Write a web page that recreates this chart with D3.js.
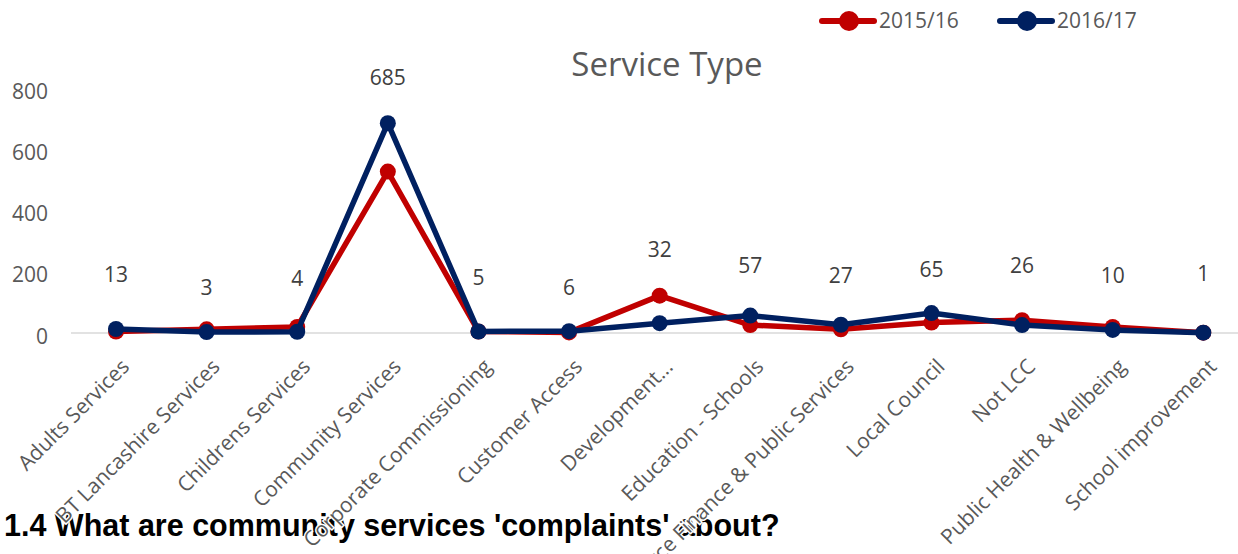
<!DOCTYPE html>
<html><head><meta charset="utf-8">
<script src="https://cdn.jsdelivr.net/npm/d3@7"></script>
<style>
html,body{margin:0;padding:0;background:#fff;overflow:hidden;}
svg{display:block;}
</style></head>
<body>
<svg id="chart" width="1238" height="554"></svg>
<script>
const categories = ["Adults Services","BT Lancashire Services","Childrens Services","Community Services","Corporate Commissioning","Customer Access","Development...","Education - Schools","Resource Finance & Public Services","Local Council","Not LCC","Public Health & Wellbeing","School improvement"];
const series2015 = [5, 12, 20, 527, 5, 2, 122, 26, 12, 34, 42, 20, 1];
const series2016 = [13, 3, 4, 685, 5, 6, 32, 57, 27, 65, 26, 10, 1];
const dataLabels = ["13","3","4","685","5","6","32","57","27","65","26","10","1"];
const labelHeights = [190, 148, 177, 833, 180, 148, 272, 220, 187, 207, 220, 187, 193];
const yTicks = [0, 200, 400, 600, 800];
const seriesNames = ["2015/16", "2016/17"];
const colors = ["#C00000", "#002060"];

const svg = d3.select("#chart");
const font = "'Open Sans', sans-serif";

const x = d3.scalePoint().domain(categories).range([116, 1203.3]);
const y = d3.scaleLinear().domain([0, 800]).range([333, 88]);

// bottom heading (drawn first; axis labels overlay it)
svg.append("text")
  .attr("x", 4).attr("y", 536)
  .attr("font-family", "'Liberation Sans', Arial, sans-serif")
  .attr("font-weight", "bold").attr("font-size", 30.5)
  .attr("fill", "#000")
  .text("1.4 What are community services 'complaints' about?");

// chart title
svg.append("text")
  .attr("x", 667).attr("y", 76)
  .attr("text-anchor", "middle")
  .attr("font-family", font).attr("font-size", 33)
  .attr("fill", "#595959")
  .text("Service Type");

// y axis labels
const yAxis = d3.axisLeft(y).tickValues(yTicks).tickSize(0).tickPadding(0);
const yg = svg.append("g").attr("transform", "translate(48,3.5)").call(yAxis);
yg.select(".domain").remove();
yg.selectAll("text").attr("font-family", font).attr("font-size", 21).attr("fill", "#595959");

// baseline
svg.append("line")
  .attr("x1", 71).attr("x2", 1238)
  .attr("y1", y(0)).attr("y2", y(0))
  .attr("stroke", "#d9d9d9").attr("stroke-width", 1.5);

// x labels
const xAxis = d3.axisBottom(x).tickSize(0).tickPadding(0);
const xg = svg.append("g").attr("transform", `translate(0,${y(0)})`).call(xAxis);
xg.select(".domain").remove();
xg.selectAll(".tick text")
  .attr("font-family", font).attr("font-size", 21).attr("fill", "#595959")
  .attr("text-anchor", "end")
  .attr("dy", null).attr("y", null)
  .attr("dominant-baseline", "middle")
  .attr("transform", "translate(10,31) rotate(-45)")
  .attr("stroke", "#fff").attr("stroke-width", 3).attr("paint-order", "stroke");

// lines
const allSeries = [series2015, series2016];
const line = d3.line().x((d, i) => x(categories[i])).y(d => y(d));
allSeries.forEach((s, k) => {
  svg.append("path").datum(s)
    .attr("d", line).attr("fill", "none")
    .attr("stroke", colors[k]).attr("stroke-width", 5.5)
    .attr("stroke-linejoin", "round");
  svg.append("g").selectAll("circle").data(s).join("circle")
    .attr("cx", (d, i) => x(categories[i])).attr("cy", d => y(d))
    .attr("r", 8).attr("fill", colors[k]);
});

// data labels
svg.append("g").selectAll("text").data(dataLabels).join("text")
  .attr("x", (d, i) => x(categories[i]))
  .attr("y", (d, i) => y(labelHeights[i]))
  .attr("dy", "0.35em")
  .attr("text-anchor", "middle")
  .attr("font-family", font).attr("font-size", 21).attr("fill", "#404040")
  .text(d => d);

// legend
const legendX = [822, 1000];
seriesNames.forEach((n, k) => {
  const g = svg.append("g").attr("transform", `translate(${legendX[k]},21)`);
  g.append("line").attr("x1", 0).attr("x2", 52).attr("y1", 0).attr("y2", 0)
    .attr("stroke", colors[k]).attr("stroke-width", 6).attr("stroke-linecap", "round");
  g.append("circle").attr("cx", 27).attr("cy", 0).attr("r", 10).attr("fill", colors[k]);
  g.append("text").attr("x", 57).attr("y", 0).attr("dy", "0.35em")
    .attr("font-family", font).attr("font-size", 21).attr("fill", "#595959").text(n);
});
</script>
</body></html>
